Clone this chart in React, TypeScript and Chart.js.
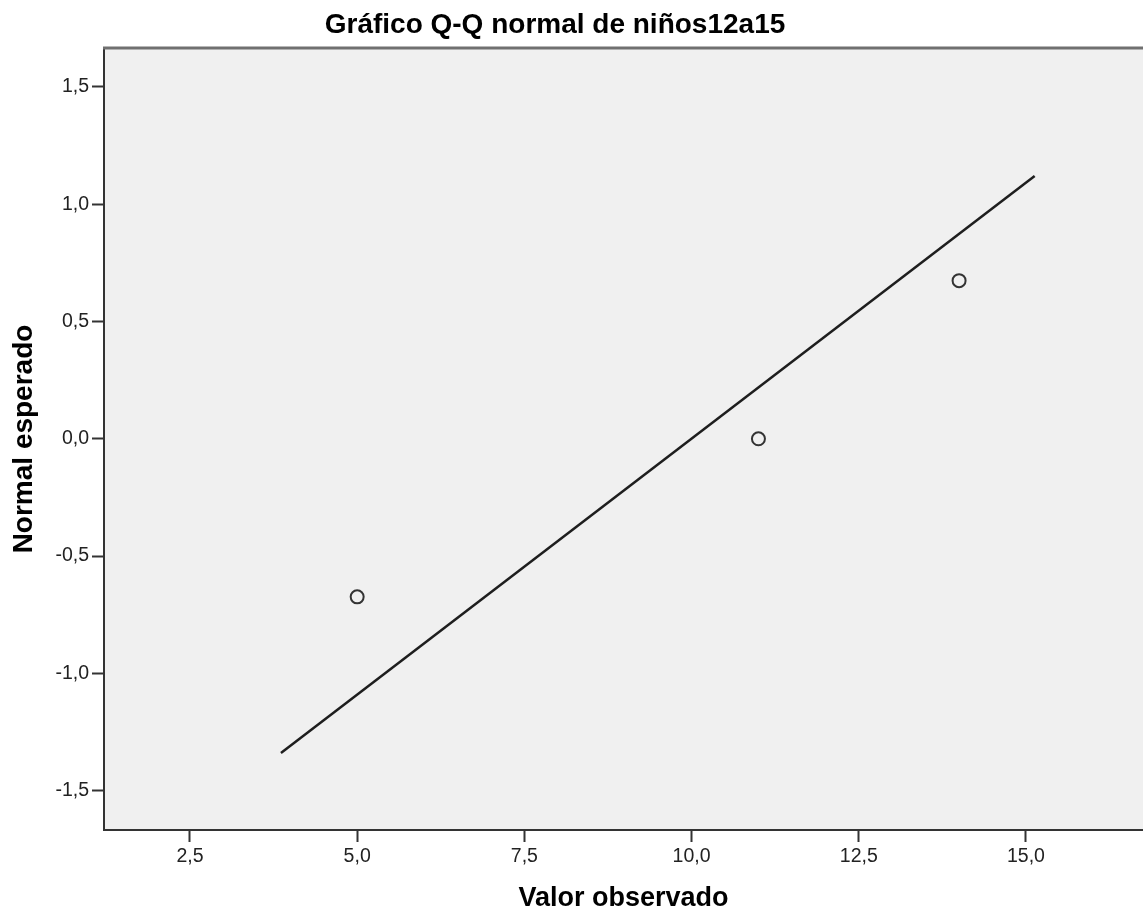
import React, { useEffect, useRef } from "react";
import { Chart, registerables } from "chart.js";

Chart.register(...registerables);

// Observed values and their expected normal scores (Q-Q points)
const observedValues = [5, 11, 14];
const expectedNormal = [-0.674, 0.0, 0.674];

// Reference line endpoints
const lineX = [3.86, 15.13];
const lineY = [-1.34, 1.12];

// Tick values
const xTicks = [2.5, 5.0, 7.5, 10.0, 12.5, 15.0];
const yTicks = [-1.5, -1.0, -0.5, 0.0, 0.5, 1.0, 1.5];

const chartTitle = "Gráfico Q-Q normal de niños12a15";
const xTitle = "Valor observado";
const yTitle = "Normal esperado";

const FONT = "'Liberation Sans', Arial, sans-serif";
const fmt = (v: number) => v.toFixed(1).replace(".", ",");

const framePlugin = {
  id: "frame",
  beforeDraw(chart: any) {
    const { ctx, chartArea } = chart;
    ctx.save();
    ctx.fillStyle = "#f0f0f0";
    ctx.fillRect(chartArea.left, chartArea.top, chartArea.right - chartArea.left, chartArea.bottom - chartArea.top);
    ctx.restore();
  },
  afterDraw(chart: any) {
    const { ctx, chartArea } = chart;
    ctx.save();
    ctx.strokeStyle = "#707070";
    ctx.lineWidth = 3;
    ctx.beginPath();
    ctx.moveTo(chartArea.left - 1, chartArea.top);
    ctx.lineTo(chartArea.right, chartArea.top);
    ctx.stroke();
    ctx.fillStyle = "#000";
    ctx.font = `bold 28px ${FONT}`;
    ctx.textAlign = "center";
    ctx.textBaseline = "alphabetic";
    ctx.fillText(chartTitle, 555, 33);
    ctx.restore();
  },
};

export default function App() {
  const ref = useRef<HTMLCanvasElement | null>(null);

  useEffect(() => {
    if (!ref.current) return;
    const chart = new Chart(ref.current, {
      type: "scatter",
      data: {
        datasets: [
          {
            label: "Línea",
            data: lineX.map((x, i) => ({ x, y: lineY[i] })),
            showLine: true,
            borderColor: "#1e1e1e",
            borderWidth: 2.5,
            pointRadius: 0,
            pointHoverRadius: 0,
            fill: false,
          },
          {
            label: "Observado",
            data: observedValues.map((x, i) => ({ x, y: expectedNormal[i] })),
            showLine: false,
            pointStyle: "circle",
            pointRadius: 6.5,
            pointBorderWidth: 2,
            pointBorderColor: "#333",
            pointBackgroundColor: "rgba(0,0,0,0)",
          },
        ],
      },
      options: {
        responsive: false,
        animation: false,
        devicePixelRatio: 1,
        layout: { autoPadding: false, padding: { top: 48, left: 0, right: 0, bottom: 0 } },
        plugins: {
          legend: { display: false },
          title: { display: false },
          tooltip: { enabled: false },
        },
        scales: {
          x: {
            type: "linear",
            min: 1.2145,
            max: 16.75,
            afterBuildTicks: (scale: any) => {
              scale.ticks = xTicks.map((v) => ({ value: v }));
            },
            afterFit: (scale: any) => {
              scale.height = 85;
              scale.paddingLeft = 0;
              scale.paddingRight = 0;
            },
            ticks: {
              callback: (v: any) => fmt(Number(v)),
              font: { family: FONT, size: 19.5 },
              color: "#222",
              padding: 3,
              maxRotation: 0,
              autoSkip: false,
            },
            grid: {
              display: true,
              drawOnChartArea: false,
              drawTicks: true,
              tickLength: 12,
              tickWidth: 2,
              tickColor: "#333",
            },
            border: { display: true, color: "#333", width: 2 },
            title: {
              display: true,
              text: xTitle,
              color: "#000",
              font: { family: FONT, size: 27, weight: "bold" },
              padding: { top: 0, bottom: 0 },
            },
          },
          y: {
            type: "linear",
            min: -1.668,
            max: 1.666,
            afterBuildTicks: (scale: any) => {
              scale.ticks = yTicks.map((v) => ({ value: v }));
            },
            afterFit: (scale: any) => {
              scale.width = 104;
              scale.paddingTop = 0;
              scale.paddingBottom = 0;
            },
            ticks: {
              callback: (v: any) => fmt(Number(v)),
              font: { family: FONT, size: 19.5 },
              color: "#222",
              padding: 3,
              autoSkip: false,
            },
            grid: {
              display: true,
              drawOnChartArea: false,
              drawTicks: true,
              tickLength: 12,
              tickWidth: 2,
              tickColor: "#333",
            },
            border: { display: true, color: "#333", width: 2 },
            title: {
              display: true,
              text: yTitle,
              color: "#000",
              font: { family: FONT, size: 28, weight: "bold" },
              padding: { top: 7, bottom: 0 },
            },
          },
        },
      },
      plugins: [framePlugin],
    });
    return () => chart.destroy();
  }, []);

  return (
    <div style={{ position: "fixed", left: 0, top: 0, width: 1143, height: 915, overflow: "hidden", background: "#fff" }}>
      <canvas ref={ref} width={1143} height={915} style={{ display: "block" }} />
    </div>
  );
}
